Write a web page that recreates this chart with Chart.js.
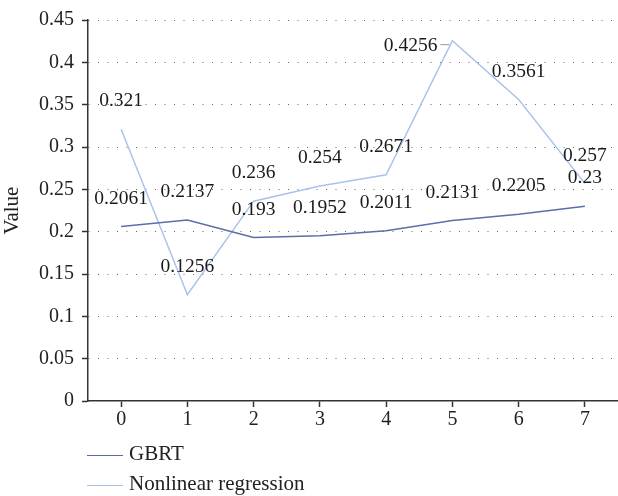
<!DOCTYPE html>
<html>
<head>
<meta charset="utf-8">
<script src="https://cdn.jsdelivr.net/npm/chart.js@4"></script>
<style>
  html, body { margin: 0; padding: 0; background: #fff; }
  #wrap { position: relative; width: 618px; height: 496px; }
  #legend { position: absolute; left: 87px; top: 438px; font-family: "Liberation Serif", serif; font-size: 21px; color: #222; }
  #legend div { height: 30px; line-height: 30px; white-space: nowrap; }
  #legend span.sw { display: inline-block; width: 36px; height: 0; border-top: 1.5px solid; vertical-align: middle; margin-right: 6px; }
</style>
</head>
<body>
<div id="wrap">
  <canvas id="chart" width="618" height="496"></canvas>
  <div id="legend"></div>
</div>
<script>
// data
const categories = ['0', '1', '2', '3', '4', '5', '6', '7'];
const gbrtValues = [0.2061, 0.2137, 0.193, 0.1952, 0.2011, 0.2131, 0.2205, 0.23];
const nonlinearValues = [0.321, 0.1256, 0.236, 0.254, 0.2671, 0.4256, 0.3561, 0.257];
const seriesNames = ['GBRT', 'Nonlinear regression'];
const seriesColors = ['#5b6ea8', '#a8c4ea'];
const yTicks = [0, 0.05, 0.1, 0.15, 0.2, 0.25, 0.3, 0.35, 0.4, 0.45];

const FONT = '"Liberation Serif", "Times New Roman", serif';

// draws the value next to each point (above it, or to the left if there's no room)
const valueLabels = {
    id: 'valueLabels',
    afterDatasetsDraw(chart) {
        const ctx = chart.ctx;
        const area = chart.chartArea;
        ctx.save();
        ctx.font = '19.5px ' + FONT;
        ctx.fillStyle = '#1a1a1a';
        chart.data.datasets.forEach((ds, di) => {
            const meta = chart.getDatasetMeta(di);
            meta.data.forEach((pt, i) => {
                const txt = String(ds.data[i]);
                const y = pt.y - 28;
                if (y - 8 < area.top) {
                    // no room above: put it to the left with a short leader
                    ctx.textAlign = 'right';
                    ctx.textBaseline = 'middle';
                    ctx.fillText(txt, pt.x - 15, pt.y + 5);
                    ctx.strokeStyle = '#999';
                    ctx.lineWidth = 1;
                    ctx.beginPath();
                    ctx.moveTo(pt.x - 12, pt.y + 4);
                    ctx.lineTo(pt.x - 3, pt.y + 4);
                    ctx.stroke();
                } else {
                    ctx.textAlign = 'center';
                    ctx.textBaseline = 'middle';
                    ctx.fillText(txt, pt.x, y);
                }
            });
        });
        ctx.restore();
    }
};

document.addEventListener('DOMContentLoaded', () => {
    const ctx = document.getElementById('chart').getContext('2d');
    new Chart(ctx, {
        type: 'line',
        data: {
            labels: categories,
            datasets: [
                { label: seriesNames[0], data: gbrtValues, borderColor: seriesColors[0], borderWidth: 1.5, pointRadius: 0, tension: 0, fill: false },
                { label: seriesNames[1], data: nonlinearValues, borderColor: seriesColors[1], borderWidth: 1.5, pointRadius: 0, tension: 0, fill: false }
            ]
        },
        plugins: [valueLabels],
        options: {
            responsive: false,
            animation: false,
            layout: { padding: { top: 14, right: 0, bottom: 0, left: 0 } },
            plugins: {
                legend: { display: false },
                tooltip: { enabled: false }
            },
            scales: {
                x: {
                    offset: true,
                    grid: { drawOnChartArea: false, drawTicks: true, tickLength: 6, tickColor: '#333', tickWidth: 1.5, offset: false },
                    border: { color: '#333', width: 1.5 },
                    ticks: { color: '#222', font: { family: FONT, size: 20 }, padding: 1, maxRotation: 0 },
                    afterFit(scale) { scale.height = 95; }
                },
                y: {
                    min: 0,
                    max: 0.45,
                    afterBuildTicks(scale) { scale.ticks = yTicks.map(v => ({ value: v })); },
                    grid: {
                        color: (c) => c.tick && c.tick.value === 0 ? 'rgba(0,0,0,0)' : '#666',
                        lineWidth: 1,
                        drawTicks: true, tickLength: 6, tickColor: '#333', tickWidth: 1.5
                    },
                    border: { color: '#333', width: 1.5, dash: [1, 8.5] },
                    ticks: {
                        color: '#222', font: { family: FONT, size: 20 }, padding: 8,
                        callback: (v) => String(+Number(v).toFixed(2))
                    },
                    title: { display: true, text: 'Value', color: '#222', font: { family: FONT, size: 21 }, padding: { top: 0, bottom: 2 } },
                    afterFit(scale) { scale.width = 88; }
                }
            }
        }
    });

    // legend as plain html, stacked like the original
    const legend = document.getElementById('legend');
    seriesNames.forEach((name, i) => {
        const row = document.createElement('div');
        const sw = document.createElement('span');
        sw.className = 'sw';
        sw.style.borderColor = seriesColors[i];
        row.appendChild(sw);
        row.appendChild(document.createTextNode(name));
        legend.appendChild(row);
    });
});
</script>
</body>
</html>
